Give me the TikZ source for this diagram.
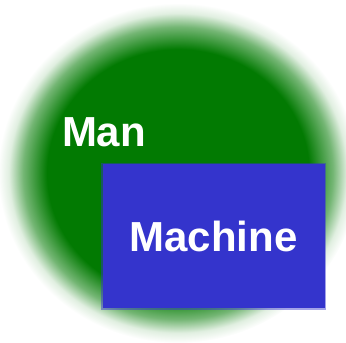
\documentclass[tikz,border=0pt]{standalone}
\usepackage{fontspec}
\usepackage{xcolor}
\usepackage{tikz}
\newfontfamily\labelfont{Liberation Sans}

\definecolor{mangreen}{RGB}{2,122,2}
\definecolor{machblue}{RGB}{52,52,204}

% soft edge for the big blob
\pgfdeclareradialshading{manblur}{\pgfpoint{0bp}{0bp}}{%
    color(0bp)=(mangreen);
    color(18.2bp)=(mangreen);
    color(21.5bp)=(mangreen!55!white);
    color(23.5bp)=(mangreen!12!white);
    color(25bp)=(white)}

\begin{document}
\begin{tikzpicture}[
    x=1pt, y=-1pt,
    every node/.style={align=center},
    whitetext/.style={
        text=white,
        font=\labelfont\bfseries\fontsize{42}{48}\selectfont,
        inner sep=0pt
    },
    mbox/.style={
        rectangle,
        fill=machblue,
        draw=machblue,
        draw opacity=0.45,
        line width=3pt,
        minimum width=222pt,
        minimum height=144pt
    },
]
\useasboundingbox (0,0) rectangle (346,343);

% Green blob
\shade[shading=manblur] (178,173) ellipse [x radius=180, y radius=170];

% Labels
\node[whitetext] (man) at (104,132) {Man};
\node[mbox, whitetext] (machine) at (213.5,236) {Machine};

\end{tikzpicture}
\end{document}
